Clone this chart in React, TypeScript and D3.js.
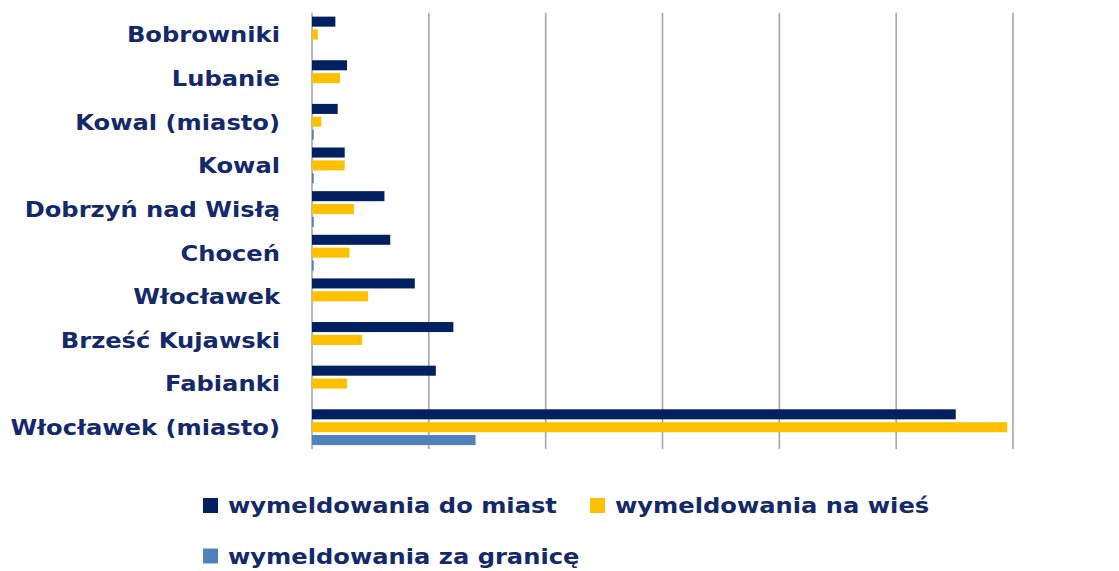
import React from 'react';
import * as d3 from 'd3';

const categories = [
  'Bobrowniki',
  'Lubanie',
  'Kowal (miasto)',
  'Kowal',
  'Dobrzyń nad Wisłą',
  'Choceń',
  'Włocławek',
  'Brześć Kujawski',
  'Fabianki',
  'Włocławek (miasto)',
];
const doMiast = [20, 30, 22, 28, 62, 67, 88, 121, 106, 551];
const naWies = [5, 24, 8, 28, 36, 32, 48, 43, 30, 595];
const zaGranice = [0, 0, 1.5, 1.5, 1.5, 1.5, 0, 0, 0, 140];
const seriesNames = ['wymeldowania do miast', 'wymeldowania na wieś', 'wymeldowania za granicę'];
const colors = ['#002060', '#FFC000', '#4F81BD'];
const gridTicks = [0, 100, 200, 300, 400, 500, 600];

const W = 1119;
const H = 571;
const textColor = '#13296a';
const font = '"DejaVu Sans", sans-serif';
const stretch = 1.1; // the reference text is wider than DejaVu

export default function App() {
  const x = d3.scaleLinear().domain([0, 600]).range([312, 1013]);
  const y = d3.scaleBand().domain(categories).range([12.7, 449]).paddingInner(0.18).paddingOuter(0.09);
  const inner = d3.scaleBand().domain(['0', '1', '2']).range([0, y.bandwidth()]).paddingInner(0.22);
  const series = [doMiast, naWies, zaGranice];

  const legend = [
    { x: 203, y: 505.5 },
    { x: 590, y: 505.5 },
    { x: 203, y: 556 },
  ];

  return (
    <svg width={W} height={H} style={{ position: 'absolute', left: 0, top: 0 }}>
      <rect width={W} height={H} fill="#fff" />
      {gridTicks.map((t) => (
        <line key={t} x1={x(t)} x2={x(t)} y1={12.7} y2={449} stroke="#a6a6a6" strokeWidth={1.6} />
      ))}
      {series.map((vals, si) =>
        vals.map((v, i) => (
          <rect
            key={`${si}-${i}`}
            x={x(0)}
            y={(y(categories[i]) as number) + (inner(String(si)) as number)}
            width={x(v) - x(0)}
            height={inner.bandwidth()}
            fill={colors[si]}
          />
        ))
      )}
      {categories.map((c) => (
        <text
          key={c}
          transform={`translate(280,${(y(c) as number) + y.bandwidth() / 2}) scale(${stretch},1)`}
          dy="0.36em"
          textAnchor="end"
          fontFamily={font}
          fontWeight="bold"
          fontSize={22}
          fill={textColor}
        >
          {c}
        </text>
      ))}
      {legend.map((p, i) => (
        <g key={i} transform={`translate(${p.x},${p.y})`}>
          <rect x={0} y={-7.5} width={15} height={15} fill={colors[i]} />
          <text
            transform={`translate(${i === 1 ? 25 : 25},0) scale(${stretch},1)`}
            dy="0.36em"
            fontFamily={font}
            fontWeight="bold"
            fontSize={22}
            fill={textColor}
          >
            {seriesNames[i]}
          </text>
        </g>
      ))}
    </svg>
  );
}
